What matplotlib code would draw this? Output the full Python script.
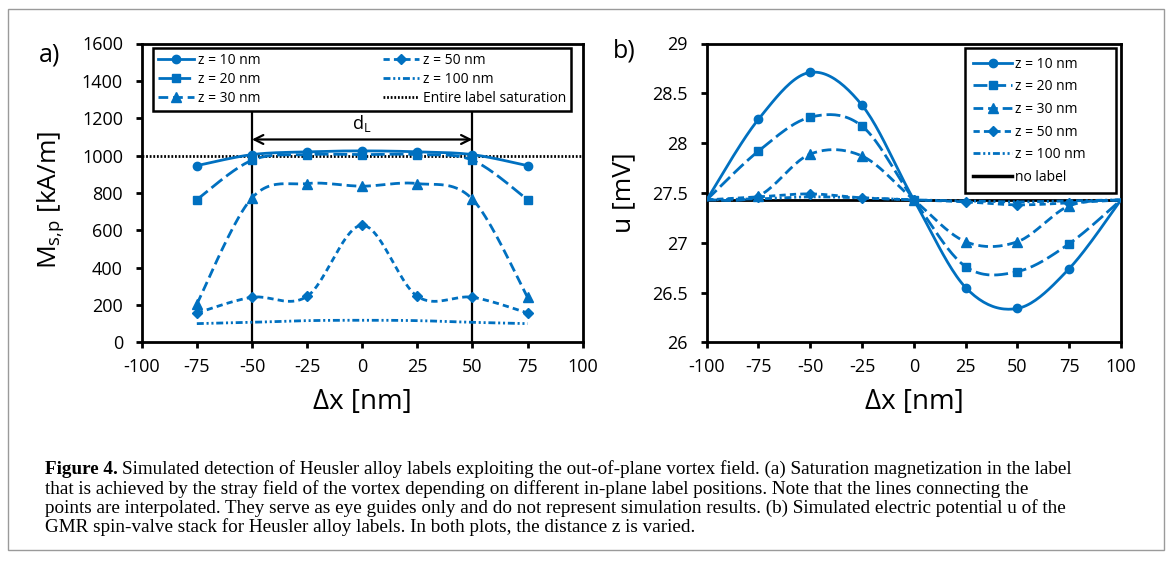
import numpy as np
import matplotlib
matplotlib.use("Agg")
import matplotlib.pyplot as plt
from matplotlib.lines import Line2D
from matplotlib.patches import Rectangle

# ---------------- data ----------------
x_a = [-75, -50, -25, 0, 25, 50, 75]
ms_z10 = [946, 1005, 1020, 1025, 1020, 1005, 946]
ms_z20 = [764, 975, 1005, 1005, 1005, 975, 764]
ms_z30 = [205, 773, 850, 836, 850, 766, 241]
ms_z50 = [157, 241, 246, 627, 246, 241, 157]
ms_z100 = [100, 107, 116, 118, 116, 107, 100]
saturation = 1000

x_b = [-100, -75, -50, -25, 0, 25, 50, 75, 100]
u_z10 = [27.43, 28.24, 28.71, 28.38, 27.43, 26.55, 26.34, 26.74, 27.43]
u_z20 = [27.43, 27.92, 28.26, 28.17, 27.43, 26.76, 26.71, 26.99, 27.43]
u_z30 = [27.43, 27.47, 27.89, 27.87, 27.43, 27.01, 27.01, 27.37, 27.43]
u_z50 = [27.43, 27.46, 27.49, 27.45, 27.43, 27.41, 27.38, 27.40, 27.43]
u_z100 = [27.43, 27.44, 27.46, 27.45, 27.43, 27.42, 27.41, 27.42, 27.43]
u_nolabel = 27.43

labels_z = ["z = 10 nm", "z = 20 nm", "z = 30 nm", "z = 50 nm", "z = 100 nm"]
xticks = [-100, -75, -50, -25, 0, 25, 50, 75, 100]
yticks_a = [0, 200, 400, 600, 800, 1000, 1200, 1400, 1600]
yticks_b = [26, 26.5, 27, 27.5, 28, 28.5, 29]

# ---------------- style ----------------
plt.rcParams['font.family'] = ['Open Sans', 'DejaVu Sans']
plt.rcParams['mathtext.fontset'] = 'custom'
plt.rcParams['mathtext.rm'] = 'Open Sans'
plt.rcParams['mathtext.it'] = 'Open Sans:italic'
plt.rcParams['axes.unicode_minus'] = False
plt.rcParams['lines.scale_dashes'] = False

C = '#0070C0'
LW = 2.0
styles = [
    dict(ls='-', marker='o', ms=6),
    dict(ls=(0, (10, 3.5)), marker='s', ms=6),
    dict(ls=(0, (7, 3.5)), marker='^', ms=6.5),
    dict(ls=(0, (4.5, 3)), marker='D', ms=5),
    dict(ls=(0, (5, 2, 1.5, 2, 1.5, 2)), marker=None, ms=0),
]

W, H = 1170, 562
fig = plt.figure(figsize=(W / 100, H / 100), dpi=100)


def fx(px):
    return px / W


def fy(py):
    return 1 - py / H


def smooth(xs, ys, n=24):
    """Excel-style smoothed line drawn through the given points (rendering only)."""
    pts = np.column_stack([xs, ys]).astype(float)
    out = [pts[0]]
    m = len(pts)
    for i in range(m - 1):
        p0 = pts[max(i - 1, 0)]
        p1 = pts[i]
        p2 = pts[i + 1]
        p3 = pts[min(i + 2, m - 1)]
        c1 = p1 + (p2 - p0) / 6.0
        c2 = p2 - (p3 - p1) / 6.0
        t = np.linspace(0, 1, n)[1:, None]
        seg = ((1 - t) ** 3) * p1 + 3 * ((1 - t) ** 2) * t * c1 + 3 * (1 - t) * t ** 2 * c2 + t ** 3 * p2
        out.extend(seg)
    out = np.array(out)
    return out[:, 0], out[:, 1]


def style_axes(ax):
    for s in ax.spines.values():
        s.set_linewidth(2.0)
        s.set_color('black')
    ax.tick_params(axis='both', which='major', direction='out', length=4.5, width=2.0,
                   labelsize=13, pad=7, color='black')
    ax.tick_params(axis='y', pad=9)
    ax.tick_params(top=False, right=False)


# ---------------- panel a ----------------
axa = fig.add_axes([fx(141.7), fy(342.3), (582.7 - 141.7) / W, (342.3 - 43.5) / H])
axa.set_xlim(-100, 100)
axa.set_ylim(0, 1600)
series_a = [ms_z10, ms_z20, ms_z30, ms_z50, ms_z100]
handles_a = []
for vals, st, lab in zip(series_a, styles, labels_z):
    sx, sy = smooth(x_a, vals)
    axa.plot(sx, sy, color=C, lw=LW, ls=st['ls'], zorder=3)
    if st['marker']:
        axa.plot(x_a, vals, ls='none', marker=st['marker'], ms=st['ms'], color=C, zorder=4)
    handles_a.append(Line2D([0], [0], color=C, lw=LW, ls=st['ls'], marker=st['marker'],
                            ms=st['ms'], label=lab))
axa.axhline(saturation, color='black', lw=2.0, ls=(0, (1.3, 1.3)), zorder=2)
sat_handle = Line2D([0], [0], color='black', lw=2.0, ls=(0, (1.3, 1.3)),
                    label='Entire label saturation')
axa.vlines([-50, 50], 0, 1247, color='black', lw=1.6, zorder=2)
axa.annotate('', xy=(50, 1086), xytext=(-50, 1086),
             arrowprops=dict(arrowstyle='<->', lw=1.6, color='black',
                             mutation_scale=16, shrinkA=0, shrinkB=0))
axa.text(0, 1170, r'd$_\mathrm{L}$', ha='center', va='center', fontsize=13)
axa.set_xticks(xticks)
axa.set_yticks(yticks_a)
axa.set_xticklabels([str(v) for v in xticks])
axa.set_yticklabels([str(v) for v in yticks_a])
style_axes(axa)

leg_a = axa.legend(handles=[handles_a[0], handles_a[1], handles_a[2], handles_a[3], handles_a[4], sat_handle],
                   ncol=2, loc='upper left', mode='expand',
                   bbox_to_anchor=(fx(152.7), fy(109.3), (571 - 152.7) / W, (109.3 - 48.3) / H),
                   bbox_transform=fig.transFigure, fontsize=10, frameon=True, fancybox=False,
                   edgecolor='black', handlelength=2.6, handletextpad=0.3,
                   labelspacing=0.28, borderpad=0.35, borderaxespad=0, framealpha=1)
leg_a.get_frame().set_linewidth(1.8)
leg_a.set_zorder(10)

# ---------------- panel b ----------------
axb = fig.add_axes([fx(706.7), fy(342.3), (1121 - 706.7) / W, (342.3 - 43.5) / H])
axb.set_xlim(-100, 100)
axb.set_ylim(26, 29)
series_b = [u_z10, u_z20, u_z30, u_z50, u_z100]
handles_b = []
for vals, st, lab in zip(series_b, styles, labels_z):
    sx, sy = smooth(x_b, vals)
    axb.plot(sx, sy, color=C, lw=LW, ls=st['ls'], zorder=3)
    if st['marker']:
        axb.plot(x_b[1:-1], vals[1:-1], ls='none', marker=st['marker'], ms=st['ms'], color=C, zorder=4)
    handles_b.append(Line2D([0], [0], color=C, lw=LW, ls=st['ls'], marker=st['marker'],
                            ms=st['ms'], label=lab))
axb.axhline(u_nolabel, color='black', lw=2.0, zorder=2)
handles_b.append(Line2D([0], [0], color='black', lw=2.5, label='no label'))
axb.set_xticks(xticks)
axb.set_yticks(yticks_b)
axb.set_xticklabels([str(v) for v in xticks])
axb.set_yticklabels(['%g' % v for v in yticks_b])
style_axes(axb)

leg_b = axb.legend(handles=handles_b, loc='upper left', mode='expand',
                   bbox_to_anchor=(fx(965), fy(193), (1116 - 965) / W, (193 - 48.3) / H),
                   bbox_transform=fig.transFigure, fontsize=10, frameon=True, fancybox=False,
                   edgecolor='black', handlelength=2.8, handletextpad=0.2,
                   labelspacing=0.55, borderpad=0.6, borderaxespad=0, framealpha=1)
leg_b.get_frame().set_linewidth(1.8)
leg_b.set_zorder(10)

# ---------------- labels ----------------
fig.text(fx(51), fy(200), r'M$_\mathrm{s{,}p}$ [kA/m]', rotation=90, ha='center', va='center', fontsize=19)
fig.text(fx(362), fy(402), 'Δx [nm]', ha='center', va='center', fontsize=20)
fig.text(fx(624), fy(193), 'u [mV]', rotation=90, ha='center', va='center', fontsize=19)
fig.text(fx(914), fy(402), 'Δx [nm]', ha='center', va='center', fontsize=20)
fig.text(fx(50), fy(55), 'a)', ha='center', va='center', fontsize=18)
fig.text(fx(624.5), fy(51), 'b)', ha='center', va='center', fontsize=18)

# ---------------- caption ----------------
cap_font = dict(family=['Liberation Serif', 'DejaVu Serif'], fontsize=13.8)
caption_first = "Simulated detection of Heusler alloy labels exploiting the out-of-plane vortex field. (a) Saturation magnetization in the label"
caption_lines = [
    "that is achieved by the stray field of the vortex depending on different in-plane label positions. Note that the lines connecting the",
    "points are interpolated. They serve as eye guides only and do not represent simulation results. (b) Simulated electric potential u of the",
    "GMR spin-valve stack for Heusler alloy labels. In both plots, the distance z is varied.",
]
renderer = fig.canvas.get_renderer()
tb = fig.text(fx(45), fy(474), 'Figure 4.', va='baseline', ha='left', weight='bold', **cap_font)
bb = tb.get_window_extent(renderer)
fig.text(bb.x1 / W + 4 / W, fy(474), caption_first, va='baseline', ha='left', **cap_font)
for i, line in enumerate(caption_lines):
    fig.text(fx(45), fy(493.5 + 19.2 * i), line, va='baseline', ha='left', **cap_font)

# outer frame
fig.patches.append(Rectangle((fx(8), fy(550)), (1164 - 8) / W, (550 - 9) / H,
                             transform=fig.transFigure, fill=False, edgecolor='#9a9a9a', lw=1.0))

fig.savefig('out.png', dpi=100)
